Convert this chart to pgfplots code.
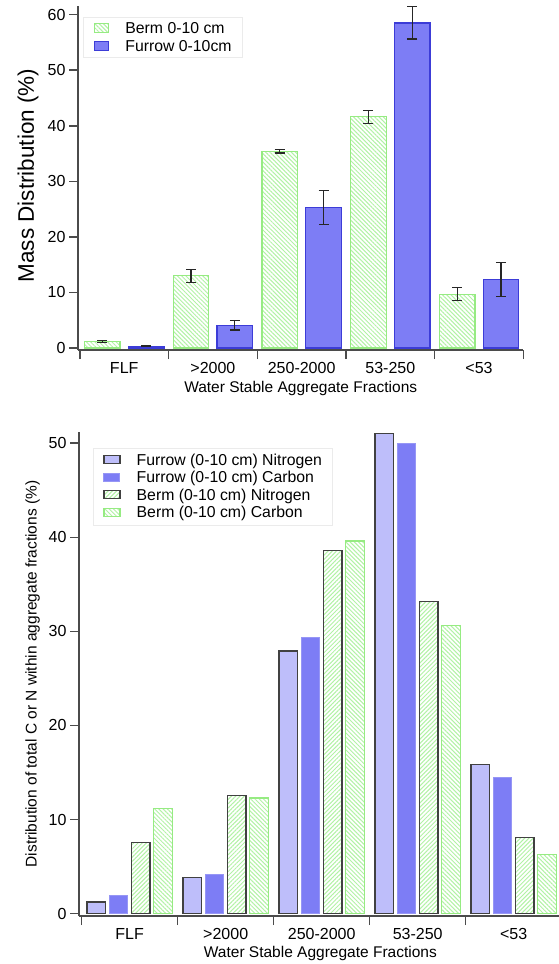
\documentclass[border=0pt]{standalone}
\usepackage{fontspec}
\setmainfont{Liberation Sans}
\usepackage{pgfplots}
\pgfplotsset{compat=1.18}
\usetikzlibrary{patterns.meta}

\definecolor{furrowfill}{RGB}{125,125,245}
\definecolor{furrowedge}{RGB}{60,60,215}
\definecolor{furrowlight}{RGB}{190,190,250}
\definecolor{furrowcedge}{RGB}{150,150,245}
\definecolor{hatchgreen}{RGB}{178,242,165}
\definecolor{bermedge}{RGB}{150,235,130}
\definecolor{axisgray}{RGB}{75,75,75}
\definecolor{edgegray}{RGB}{65,65,65}
\definecolor{legendframe}{RGB}{235,235,235}

\pgfplotsset{
  soil axis/.style={
    scale only axis,
    ybar,
    enlargelimits=false,
    axis x line*=bottom,
    axis y line*=left,
    axis line style={axisgray, line width=1.5pt},
    every tick/.style={axisgray, line width=1.5pt},
    tick align=outside,
    major tick length=9pt,
    xtick={-0.5,0.5,...,4.5},
    xticklabels={FLF,{>2000},250-2000,53-250,{<53}},
    x tick label as interval,
    /pgf/number format/assume math mode=true,
    tick label style={font=\fontsize{16}{19}\selectfont},
    xlabel={Water Stable Aggregate Fractions},
    label style={font=\fontsize{15.5}{18}\selectfont},
    error bars/error bar style={line width=1.2pt, black!85},
    error bars/error mark options={rotate=90, mark size=5pt, line width=1.2pt, black!85},
  },
  berm hatch/.style={pattern={Lines[angle=#1, distance=3pt, line width=1pt]}, pattern color=hatchgreen},
}

\begin{document}
\begin{tikzpicture}

% Mass distribution of the water stable aggregate fractions
\begin{axis}[
  soil axis,
  at={(78pt,-350pt)}, anchor=south west,
  width=445.4pt, height=343.7pt,
  xmin=-0.521, xmax=4.5,
  ymin=-0.35, ymax=61.5,
  ytick={0,10,...,60},
  bar width=0.401,
  ylabel={Mass Distribution (\%)},
  ylabel style={font=\fontsize{22.5}{26}\selectfont, at={(axis description cs:-0.0988,0.5076)}, anchor=base},
  xlabel style={at={(axis description cs:0.5,0)}, anchor=base, yshift=-42pt},
  legend style={at={(0.0112,0.9689)}, anchor=north west, draw=legendframe, fill=white,
    inner xsep=11pt, inner ysep=4pt, row sep=4pt,
    font=\fontsize{15.8}{18}\selectfont,
    nodes={inner sep=0pt, text height=12pt, text depth=2pt, anchor=base west},
    /tikz/every odd column/.style={column sep=16pt}},
  legend cell align=left,
  legend image code/.code={\draw[#1] (0pt,1pt) rectangle (14pt,10pt);},
]
\addplot[bar shift=-0.247, draw=bermedge, line width=1.2pt, berm hatch=-45,
  error bars/.cd, y dir=both, y explicit]
  coordinates {(0,1.15) +- (0,0.2) (1,13.0) +- (0,1.15) (2,35.4) +- (0,0.3)
               (3,41.6) +- (0,1.15) (4,9.7) +- (0,1.15)};
\addlegendentry{Berm 0-10 cm}
\addplot[bar shift=0.247, draw=furrowedge, fill=furrowfill, line width=1.2pt,
  error bars/.cd, y dir=both, y explicit]
  coordinates {(0,0.35) +- (0,0.1) (1,4.1) +- (0,0.85) (2,25.3) +- (0,3.1)
               (3,58.5) +- (0,2.9) (4,12.3) +- (0,3.05)};
\addlegendentry{Furrow 0-10cm}
\end{axis}

% Share of total C and N held in each aggregate fraction
\begin{axis}[
  soil axis,
  at={(79pt,-916pt)}, anchor=south west,
  width=482.7pt, height=484.1pt,
  xmin=-0.528, xmax=4.5,
  ymin=-0.25, ymax=51.2,
  ytick={0,10,...,50},
  bar width=0.195,
  ylabel={Distribution of total C or N within aggregate fractions (\%)},
  ylabel style={at={(axis description cs:-0.0876,0.5)}, anchor=base},
  xlabel style={at={(axis description cs:0.5,0)}, anchor=base, yshift=-41.3pt},
  legend style={at={(0.029,0.9667)}, anchor=north west, draw=legendframe, fill=white,
    inner xsep=10pt, inner ysep=5pt, row sep=3.5pt,
    font=\fontsize{15.8}{18}\selectfont,
    nodes={inner sep=0pt, text height=12pt, text depth=2pt, anchor=base west},
    /tikz/every odd column/.style={column sep=16pt}},
  legend cell align=left,
  legend image code/.code={\draw[#1] (0pt,1.6pt) rectangle (16pt,9.6pt);},
]
\addplot[bar shift=-0.349, draw=edgegray, fill=furrowlight, line width=1.5pt]
  coordinates {(0,1.23) (1,3.83) (2,27.9) (3,51.05) (4,15.87)};
\addlegendentry{Furrow (0-10 cm) Nitrogen}
\addplot[bar shift=-0.116, draw=furrowcedge, fill=furrowfill, line width=1pt]
  coordinates {(0,1.95) (1,4.21) (2,29.3) (3,50.0) (4,14.49)};
\addlegendentry{Furrow (0-10 cm) Carbon}
\addplot[bar shift=0.116, draw=edgegray, line width=1.5pt, berm hatch=45]
  coordinates {(0,7.54) (1,12.57) (2,38.6) (3,33.2) (4,8.07)};
\addlegendentry{Berm (0-10 cm) Nitrogen}
\addplot[bar shift=0.349, draw=bermedge, line width=1.2pt, berm hatch=-45]
  coordinates {(0,11.16) (1,12.29) (2,39.6) (3,30.6) (4,6.27)};
\addlegendentry{Berm (0-10 cm) Carbon}
\end{axis}

\pgfresetboundingbox
\path[use as bounding box] (0pt,0pt) rectangle (559pt,-964pt);
\end{tikzpicture}
\end{document}
